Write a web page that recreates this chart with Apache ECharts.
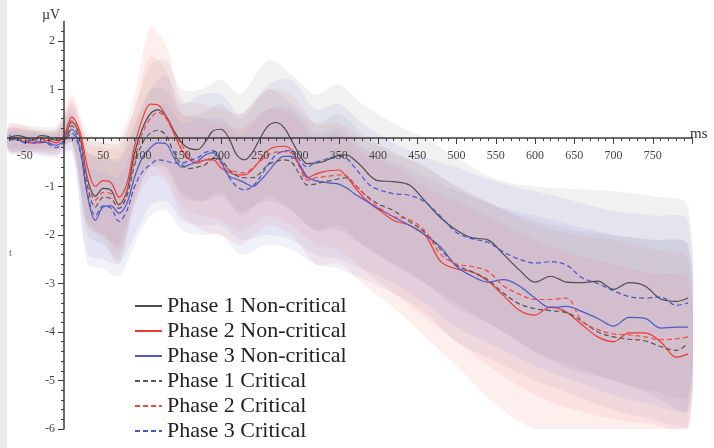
<!DOCTYPE html>
<html>
<head>
<meta charset="utf-8">
<script src="https://cdn.jsdelivr.net/npm/echarts@6/dist/echarts.min.js"></script>
<style>
    html, body { margin: 0; padding: 0; background: #fff; }
    #chart { width: 714px; height: 448px; }
</style>
</head>
<body>
<div id="chart"></div>
<script>
// time points (ms) shared by the six averaged waveforms
const times = [-70, -60, -50, -40, -30, -20, -10, 0, 10, 20, 30, 40, 50, 60, 70, 80, 90,
    100, 110, 120, 130, 140, 150, 160, 170, 180, 190, 200, 210, 220, 230, 240, 250, 260, 270, 280, 290,
    300, 310, 320, 330, 340, 350, 360, 370, 380, 390, 400,
    420, 440, 460, 480, 500, 520, 540, 560, 580, 600, 620, 640, 660, 680, 700, 720, 740, 760, 780, 795];

const p1NonCritical = [0.0, 0.05, 0.02, -0.05, 0.05, 0.03, -0.05, 0.0,
    0.33, 0.05, -0.85, -1.2, -1.04, -1.08, -1.38, -1.1, -0.3,
    0.2, 0.5, 0.58, 0.45, 0.15, -0.1, -0.22, -0.24, -0.08, 0.15,
    0.18, 0.0, -0.35, -0.45, -0.3, 0.0, 0.25, 0.32, 0.22, -0.05,
    -0.35, -0.53, -0.52, -0.49, -0.42, -0.36, -0.35, -0.45, -0.6, -0.78, -0.88,
    -0.9, -0.97, -1.3, -1.65, -1.9, -2.06, -2.1, -2.4, -2.72, -2.97, -2.85, -2.97, -2.98, -2.95, -3.12, -2.98, -3.05, -3.32, -3.37, -3.3];

const p2NonCritical = [0.02, 0.0, -0.08, -0.1, -0.1, -0.05, -0.1, 0.05,
    0.43, 0.15, -0.6, -1.0, -0.88, -0.92, -1.22, -0.95, -0.15,
    0.4, 0.7, 0.68, 0.45, 0.1, -0.25, -0.45, -0.52, -0.45, -0.45,
    -0.62, -0.7, -0.76, -0.76, -0.65, -0.45, -0.25, -0.18, -0.17, -0.25,
    -0.55, -0.82, -0.75, -0.7, -0.67, -0.66, -0.8, -1.0, -1.2, -1.35, -1.47,
    -1.7, -1.8, -2.0, -2.55, -2.7, -2.76, -2.95, -3.25, -3.55, -3.65, -3.48, -3.59, -3.85, -4.1, -4.2, -4.02, -4.02, -4.2, -4.52, -4.45];

const p3NonCritical = [-0.05, -0.02, -0.1, -0.05, -0.08, -0.1, -0.15, -0.05,
    0.18, -0.2, -1.2, -1.7, -1.42, -1.4, -1.55, -1.35, -0.8,
    -0.4, -0.2, -0.1, -0.12, -0.4, -0.6, -0.55, -0.48, -0.35, -0.3,
    -0.5, -0.78, -0.85, -0.92, -1.0, -0.88, -0.7, -0.5, -0.38, -0.38,
    -0.55, -0.8, -0.88, -0.91, -0.93, -0.95, -1.03, -1.15, -1.25, -1.35, -1.45,
    -1.63, -1.8, -2.0, -2.25, -2.65, -2.85, -2.97, -2.92, -3.05, -3.3, -3.5, -3.47, -3.58, -3.72, -3.88, -3.7, -3.72, -3.92, -3.9, -3.9];

const p1Critical = [0.0, -0.05, 0.0, -0.03, 0.0, -0.05, 0.0, -0.05,
    0.25, -0.05, -1.0, -1.42, -1.22, -1.25, -1.45, -1.2, -0.55,
    -0.1, 0.1, 0.16, 0.05, -0.3, -0.55, -0.63, -0.6, -0.55, -0.42,
    -0.45, -0.65, -0.78, -0.82, -0.82, -0.72, -0.55, -0.48, -0.45, -0.5,
    -0.75, -0.97, -0.95, -0.91, -0.88, -0.84, -0.82, -0.95, -1.12, -1.25, -1.36,
    -1.5, -1.72, -1.95, -2.3, -2.62, -2.76, -2.92, -3.2, -3.42, -3.52, -3.56, -3.6, -3.78, -4.0, -4.1, -4.15, -4.18, -4.3, -4.38, -4.23];

const p2Critical = [0.02, -0.02, -0.05, -0.05, -0.02, -0.08, -0.05, 0.0,
    0.36, 0.05, -0.85, -1.28, -1.12, -1.15, -1.36, -1.1, -0.45,
    0.1, 0.4, 0.53, 0.4, 0.1, -0.15, -0.38, -0.49, -0.45, -0.41,
    -0.52, -0.65, -0.7, -0.72, -0.62, -0.48, -0.35, -0.29, -0.28, -0.31,
    -0.6, -0.87, -0.82, -0.8, -0.78, -0.76, -0.78, -0.95, -1.11, -1.28, -1.42,
    -1.62, -1.68, -1.92, -2.4, -2.6, -2.65, -2.75, -3.05, -3.22, -3.33, -3.33, -3.3, -3.78, -3.95, -4.04, -4.06, -4.1, -4.16, -4.14, -4.1];

const p3Critical = [0.05, -0.02, -0.08, -0.1, -0.08, -0.12, -0.2, -0.08,
    0.1, -0.25, -1.15, -1.6, -1.4, -1.45, -1.72, -1.5, -1.0,
    -0.7, -0.55, -0.45, -0.47, -0.52, -0.52, -0.46, -0.41, -0.3, -0.26,
    -0.45, -0.8, -1.0, -1.07, -1.0, -0.8, -0.55, -0.35, -0.27, -0.26,
    -0.45, -0.6, -0.5, -0.46, -0.4, -0.38, -0.42, -0.6, -0.8, -0.98, -1.06,
    -1.15, -1.18, -1.32, -1.62, -1.95, -2.08, -2.15, -2.35, -2.5, -2.58, -2.55, -2.62, -2.88, -3.0, -3.15, -3.27, -3.3, -3.28, -3.45, -3.4];

// shaded spread: wide and narrow envelope for each phase
const bandTimes = [-70, -40, -10, 10, 30, 50, 70, 90, 110, 130, 150, 175, 200, 225, 260, 290,
    320, 350, 380, 420, 460, 500, 550, 600, 650, 700, 750, 795];

const phase1Upper = [0.25, 0.25, 0.25, 0.7, 0.0, -0.1, -0.1, 0.6, 1.5, 1.6, 1.0, 1.0, 1.2, 0.9, 1.6, 1.3,
    0.9, 1.1, 0.7, 0.3, 0.0, -0.4, -0.85, -1.0, -1.05, -1.1, -1.2, -1.4];
const phase1Lower = [-0.25, -0.25, -0.25, -0.1, -2.0, -2.2, -2.5, -1.3, -0.6, -0.6, -1.2, -1.3, -1.1, -1.6, -1.2, -1.5,
    -1.9, -1.8, -2.2, -2.6, -3.0, -3.4, -3.9, -4.4, -4.8, -5.0, -5.3, -5.6];
const phase2Upper = [0.3, 0.2, 0.2, 0.9, 0.1, 0.0, 0.0, 0.9, 2.3, 1.9, 0.8, 0.7, 0.6, 0.5, 1.0, 0.9,
    0.3, 0.3, 0.0, -0.3, -0.6, -1.0, -1.4, -1.8, -2.0, -2.1, -2.3, -2.5];
const phase2Lower = [-0.3, -0.3, -0.35, -0.1, -1.8, -2.1, -2.6, -1.4, -0.8, -0.9, -1.6, -1.9, -2.0, -2.2, -1.8, -2.0,
    -2.6, -2.6, -3.0, -3.5, -4.1, -4.7, -5.5, -6.0, -6.0, -6.0, -6.0, -6.0];
const phase3Upper = [0.2, 0.15, 0.15, 0.6, -0.3, -0.4, -0.5, 0.2, 1.0, 1.3, 0.7, 0.9, 0.9, 0.5, 1.1, 1.2,
    0.6, 0.7, 0.3, -0.1, -0.4, -0.6, -0.9, -1.1, -1.3, -1.5, -1.6, -1.7];
const phase3Lower = [-0.3, -0.35, -0.4, -0.3, -2.6, -2.7, -2.85, -2.2, -1.6, -1.5, -1.9, -2.0, -2.0, -2.4, -2.2, -2.3,
    -2.6, -2.7, -2.9, -3.2, -3.6, -4.2, -4.6, -5.0, -5.3, -5.6, -5.8, -5.9];

const phase1InnerUpper = [0.15, 0.15, 0.15, 0.5, -0.3, -0.4, -0.4, 0.3, 1.0, 1.0, 0.5, 0.5, 0.7, 0.4, 1.0, 0.7,
    0.3, 0.5, 0.1, -0.3, -0.6, -1.0, -1.4, -1.7, -1.9, -2.0, -2.1, -2.2];
const phase1InnerLower = [-0.2, -0.2, -0.2, -0.1, -1.8, -2.0, -2.2, -1.1, -0.5, -0.6, -1.1, -1.3, -1.2, -1.5, -1.3, -1.5,
    -1.9, -1.9, -2.2, -2.6, -3.0, -3.5, -3.9, -4.4, -4.7, -5.0, -5.2, -5.3];
const phase2InnerUpper = [0.2, 0.15, 0.1, 0.8, -0.1, -0.2, -0.2, 0.6, 1.7, 1.4, 0.5, 0.4, 0.3, 0.2, 0.6, 0.5,
    0.0, 0.1, -0.3, -0.6, -1.0, -1.3, -1.7, -2.1, -2.4, -2.6, -2.8, -2.9];
const phase2InnerLower = [-0.25, -0.25, -0.3, -0.1, -1.7, -2.0, -2.3, -1.3, -0.6, -0.8, -1.4, -1.6, -1.7, -1.9, -1.6, -1.8,
    -2.2, -2.3, -2.7, -3.2, -3.7, -4.2, -4.8, -5.3, -5.6, -5.8, -5.9, -6.0];
const phase3InnerUpper = [0.1, 0.1, 0.05, 0.4, -0.6, -0.7, -0.8, -0.1, 0.5, 0.7, 0.3, 0.4, 0.4, 0.1, 0.6, 0.6,
    0.1, 0.2, -0.2, -0.5, -0.8, -1.1, -1.4, -1.6, -1.8, -2.0, -2.1, -2.2];
const phase3InnerLower = [-0.25, -0.3, -0.35, -0.25, -2.4, -2.5, -2.6, -2.0, -1.4, -1.3, -1.7, -1.8, -1.8, -2.1, -2.0, -2.1,
    -2.4, -2.5, -2.7, -3.0, -3.4, -3.9, -4.3, -4.7, -5.0, -5.3, -5.5, -5.6];

const serif = "'Liberation Serif', 'DejaVu Serif', serif";

const waves = [
    { name: "Phase 1 Non-critical", values: p1NonCritical, color: "#4d4d4d", dashed: false },
    { name: "Phase 2 Non-critical", values: p2NonCritical, color: "#ee3a36", dashed: false },
    { name: "Phase 3 Non-critical", values: p3NonCritical, color: "#4b5bc9", dashed: false },
    { name: "Phase 1 Critical", values: p1Critical, color: "#555555", dashed: true },
    { name: "Phase 2 Critical", values: p2Critical, color: "#f24a44", dashed: true },
    { name: "Phase 3 Critical", values: p3Critical, color: "#4857cf", dashed: true }
];

const grayFill = "rgba(150, 150, 155, 0.13)";
const redFill = "rgba(238, 140, 135, 0.14)";
const blueFill = "rgba(150, 150, 215, 0.13)";

function bandSeries(key, lower, upper, color) {
    return {
        type: "custom",
        name: key,
        silent: true,
        z: 1,
        clip: true,
        data: bandTimes.map((t, i) => [t, lower[i], upper[i]]),
        encode: { x: 0, y: [1, 2] },
        renderItem: (params, api) => {
            if (params.dataIndex !== 0) {
                return null;
            }

            const top = bandTimes.map((t, i) => api.coord([t, upper[i]]));
            const bottom = bandTimes.map((t, i) => api.coord([t, lower[i]])).reverse();
            return {
                type: "polygon",
                shape: { points: top.concat(bottom), smooth: 0.3 },
                style: { fill: color }
            };
        }
    };
}

function waveSeries(wave) {
    return {
        type: "line",
        name: wave.name,
        data: times.map((t, i) => [t, wave.values[i]]),
        symbol: "none",
        smooth: 0.35,
        z: 3,
        lineStyle: {
            color: wave.color,
            width: 1.2,
            type: wave.dashed ? [5, 3] : "solid"
        },
        itemStyle: { color: wave.color }
    };
}

const chart = echarts.init(document.getElementById("chart"), null, { renderer: "canvas" });

// grid spans -100..800 ms and -6..2.4 uV; the axes are shifted onto the zero lines
chart.setOption({
    backgroundColor: "#ffffff",
    animation: false,
    grid: { left: -14.5, right: 22, top: 21.6, bottom: 19, containLabel: false, outerBoundsMode: "none" },
    xAxis: {
        type: "value",
        position: "bottom",
        offset: -291,
        min: -100,
        max: 800,
        interval: 50,
        z: 4,
        axisLine: { onZero: false, lineStyle: { color: "#3c3c3c", width: 1.5 } },
        axisTick: { length: 6, lineStyle: { color: "#3c3c3c", width: 1 } },
        minorTick: { show: true, splitNumber: 5, length: 3, lineStyle: { color: "#3c3c3c", width: 1 } },
        axisLabel: {
            margin: 12,
            fontFamily: serif,
            fontSize: 12,
            color: "#444",
            formatter: value => (value === 0 || value === -100 || value === 800 ? "" : String(value))
        },
        splitLine: { show: false }
    },
    yAxis: {
        type: "value",
        position: "left",
        offset: -78.5,
        min: -6,
        max: 2.4,
        interval: 1,
        z: 4,
        axisLine: { onZero: false, lineStyle: { color: "#3c3c3c", width: 1.5 } },
        axisTick: {
            length: 6,
            customValues: [-6, -5, -4, -3, -2, -1, 0, 1, 2],
            lineStyle: { color: "#3c3c3c", width: 1 }
        },
        minorTick: { show: true, splitNumber: 5, length: 3, lineStyle: { color: "#3c3c3c", width: 1 } },
        axisLabel: {
            margin: 9,
            fontFamily: serif,
            fontSize: 12,
            color: "#444",
            formatter: value => (value === 0 || !Number.isInteger(value) ? "" : String(value))
        },
        splitLine: { show: false }
    },
    legend: {
        data: waves.map(w => w.name),
        orient: "vertical",
        left: 134,
        top: 293.5,
        padding: 0,
        itemWidth: 27,
        itemHeight: 14,
        itemGap: 0,
        selectedMode: false,
        itemStyle: { opacity: 0 },
        textStyle: { fontFamily: serif, fontSize: 22, color: "#222", lineHeight: 25 }
    },
    graphic: [
        { type: "rect", left: 0, top: 0, z: 100, shape: { width: 7, height: 448 }, style: { fill: "#ececec" } },
        { type: "text", left: 9, top: 248, z: 100, style: { text: "t", fill: "#666", font: "10px " + serif } },
        { type: "text", left: 42, top: 8, z: 100, style: { text: "\u00b5V", fill: "#333", font: "14px " + serif } },
        { type: "text", left: 690, top: 127, z: 100, style: { text: "ms", fill: "#333", font: "15px " + serif } }
    ],
    series: [
        bandSeries("phase1", phase1Lower, phase1Upper, grayFill),
        bandSeries("phase2", phase2Lower, phase2Upper, redFill),
        bandSeries("phase3", phase3Lower, phase3Upper, blueFill),
        bandSeries("phase1-inner", phase1InnerLower, phase1InnerUpper, grayFill),
        bandSeries("phase2-inner", phase2InnerLower, phase2InnerUpper, redFill),
        bandSeries("phase3-inner", phase3InnerLower, phase3InnerUpper, blueFill),
        ...waves.map(waveSeries)
    ]
});
</script>
</body>
</html>
